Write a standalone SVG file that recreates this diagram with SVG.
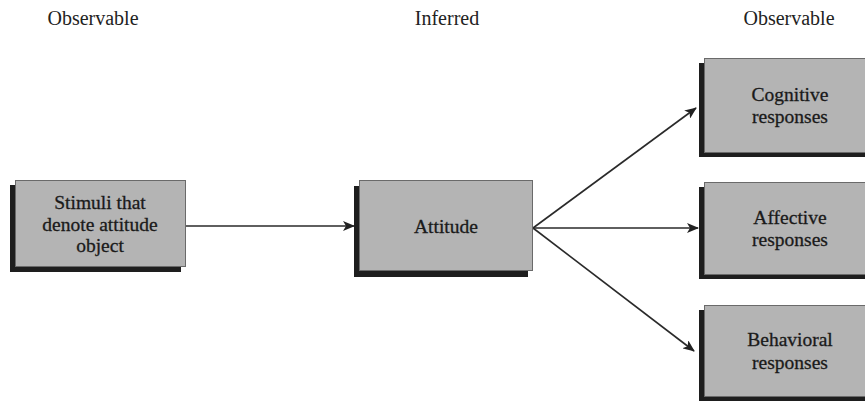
<svg xmlns="http://www.w3.org/2000/svg" width="865" height="403" viewBox="0 0 865 403">
  <defs>
    <style>
      .hdr { font-family: "Liberation Serif", "Times New Roman", serif; font-size: 20px; fill: #222; text-anchor: middle; }
      .lbl { font-family: "Liberation Serif", "Times New Roman", serif; font-size: 19.5px; fill: #1a1a1a; stroke: #1a1a1a; stroke-width: 0.3; text-anchor: middle; }
      .shadow { fill: #1e1e1e; }
      .box { fill: #b4b4b4; stroke: #6a6a6a; stroke-width: 1; }
      .conn { stroke: #2a2a2a; stroke-width: 1.6; fill: none; }
    </style>
    <marker id="arrow" viewBox="0 0 12 10" refX="11" refY="5" markerWidth="12" markerHeight="10" markerUnits="userSpaceOnUse" orient="auto">
      <path d="M0,0 L12,5 L0,10 L3,5 Z" fill="#222"/>
    </marker>
  </defs>
  <rect width="865" height="403" fill="#ffffff"/>

  <g id="headers">
    <text class="hdr" x="93" y="25">Observable</text>
    <text class="hdr" x="447" y="25">Inferred</text>
    <text class="hdr" x="789" y="25">Observable</text>
  </g>

  <g id="connectors">
    <line class="conn" x1="186" y1="226" x2="354" y2="226" marker-end="url(#arrow)"/>
    <line class="conn" x1="533" y1="228" x2="696" y2="108" marker-end="url(#arrow)"/>
    <line class="conn" x1="533" y1="228" x2="698" y2="228" marker-end="url(#arrow)"/>
    <line class="conn" x1="533" y1="228" x2="694" y2="351" marker-end="url(#arrow)"/>
  </g>

  <g id="stimuli">
    <rect class="shadow" x="10" y="185" width="171" height="87"/>
    <rect class="box" x="15.5" y="180.5" width="170" height="86"/>
    <text class="lbl" x="100" y="209">Stimuli that</text>
    <text class="lbl" x="100" y="231">denote attitude</text>
    <text class="lbl" x="100" y="252">object</text>
  </g>

  <g id="attitude">
    <rect class="shadow" x="354" y="186" width="174" height="91"/>
    <rect class="box" x="359.5" y="180.5" width="173" height="90"/>
    <text class="lbl" x="446" y="233">Attitude</text>
  </g>

  <g id="cognitive">
    <rect class="shadow" x="699" y="63" width="166" height="94"/>
    <rect class="box" x="704.5" y="58.5" width="162" height="94"/>
    <text class="lbl" x="790" y="101">Cognitive</text>
    <text class="lbl" x="790" y="123">responses</text>
  </g>

  <g id="affective">
    <rect class="shadow" x="699" y="187" width="166" height="92"/>
    <rect class="box" x="704.5" y="182.5" width="162" height="92"/>
    <text class="lbl" x="790" y="224">Affective</text>
    <text class="lbl" x="790" y="246">responses</text>
  </g>

  <g id="behavioral">
    <rect class="shadow" x="699" y="310" width="166" height="91"/>
    <rect class="box" x="704.5" y="305.5" width="162" height="91"/>
    <text class="lbl" x="790" y="346">Behavioral</text>
    <text class="lbl" x="790" y="369">responses</text>
  </g>
</svg>
